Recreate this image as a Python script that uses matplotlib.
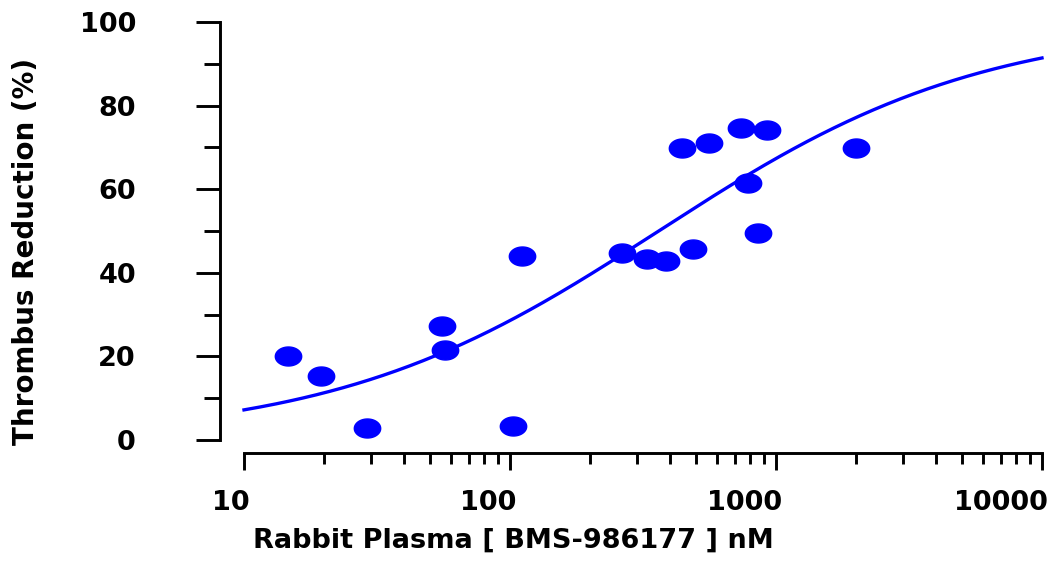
import numpy as np
import matplotlib

matplotlib.use("Agg")
import matplotlib.pyplot as plt
from matplotlib.path import Path
from matplotlib.ticker import FixedLocator, LogLocator, NullFormatter
from matplotlib.transforms import blended_transform_factory, offset_copy

# observed points: plasma concentration (nM) vs thrombus reduction (%)
conc = [14.6, 19.5, 29.0, 55.5, 57.0, 102.6, 111.0, 264.0, 327.0, 385.0,
        487.0, 444.0, 560.0, 738.0, 925.0, 785.0, 856.0, 2000.0]
reduction = [20.1, 15.3, 2.9, 27.3, 21.5, 3.3, 44.0, 44.7, 43.3, 42.8,
             45.7, 69.9, 71.1, 74.6, 74.2, 61.5, 49.5, 69.9]

# fitted Emax (Hill) curve parameters
fit_top, fit_bottom, fit_ec50, fit_hill = 100.0, 0.0, 362.0, 0.712

xticks = [10, 100, 1000, 10000]
yticks = [0, 20, 40, 60, 80, 100]

W, H, DPI = 1057, 562, 100
PT = 72 / DPI  # points per pixel
LW = 2.1
fig = plt.figure(figsize=(W / DPI, H / DPI), dpi=DPI)
ax = fig.add_axes([244 / W, (H - 440) / H, (1042 - 244) / W, (440 - 22) / H])

xx = np.logspace(1, 4, 300)
yy = fit_bottom + (fit_top - fit_bottom) / (1 + (fit_ec50 / xx) ** fit_hill)
ax.plot(xx, yy, color="#0000ff", lw=2.4, clip_on=False)

# ellipse marker (wider than tall)
t = np.linspace(0, 2 * np.pi, 60)
ell = Path(np.column_stack([np.cos(t), 0.72 * np.sin(t)]), closed=True)
ax.plot(conc, reduction, ls="none", marker=ell, ms=19, color="#0000ff",
        mec="#0000ff", clip_on=False, zorder=3)

ax.set_xscale("log")
ax.set_xlim(10, 10000)
ax.set_ylim(0, 100)

for s in ("top", "right"):
    ax.spines[s].set_visible(False)
ax.spines["left"].set_position(("outward", 24 * PT))
ax.spines["bottom"].set_position(("outward", 13 * PT))
for s in ("left", "bottom"):
    ax.spines[s].set_linewidth(LW)

ax.xaxis.set_major_locator(FixedLocator(xticks))
ax.xaxis.set_minor_locator(LogLocator(base=10, subs=np.arange(2, 10)))
ax.xaxis.set_minor_formatter(NullFormatter())
ax.set_xticklabels([])
ax.yaxis.set_major_locator(FixedLocator(yticks))
ax.yaxis.set_minor_locator(FixedLocator([10, 30, 50, 70, 90]))
ax.set_yticklabels([str(v) for v in yticks])

ax.tick_params(axis="x", which="major", length=17 * PT, width=LW)
ax.tick_params(axis="x", which="minor", length=11 * PT, width=LW)
ax.tick_params(axis="y", which="major", length=24 * PT, width=LW,
               pad=60 * PT, labelsize=19.5)
ax.tick_params(axis="y", which="minor", length=16 * PT, width=LW)
for lbl in ax.get_yticklabels():
    lbl.set_fontweight("bold")

# x tick labels sit right-aligned just past their tick
xtr = offset_copy(blended_transform_factory(ax.transData, fig.transFigure),
                  fig=fig, x=6, y=0, units="dots")
for v in xticks:
    ax.text(v, 1 - 503 / H, str(v), transform=xtr, ha="right", va="center",
            fontsize=19.5, fontweight="bold")

fig.text(513 / W, 1 - 541 / H, "Rabbit Plasma [ BMS-986177 ] nM",
         ha="center", va="center", fontsize=19.5, fontweight="bold")
fig.text(26 / W, 1 - 251 / H, "Thrombus Reduction (%)", rotation=90,
         ha="center", va="center", fontsize=20, fontweight="bold")

fig.savefig("out.png", dpi=DPI)
